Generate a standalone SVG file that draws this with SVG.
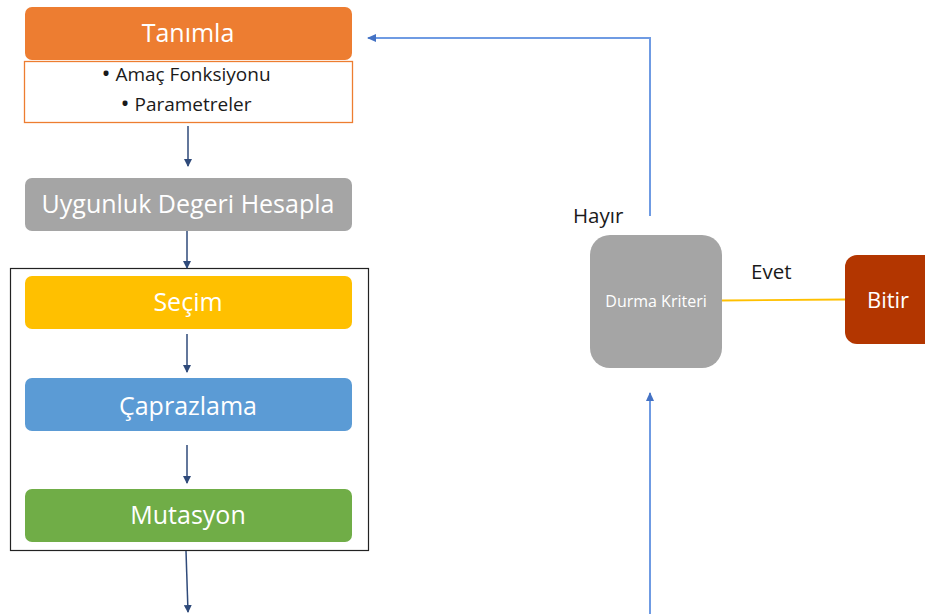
<svg xmlns="http://www.w3.org/2000/svg" width="925" height="614" viewBox="0 0 925 614">
  <defs>
    <marker id="navyHead" markerWidth="8" markerHeight="8" refX="7" refY="4" orient="auto" markerUnits="userSpaceOnUse">
      <path d="M0,0 L8,4 L0,8 Z" fill="#2F4A7A"/>
    </marker>
    <marker id="blueHead" markerWidth="9" markerHeight="8" refX="8" refY="4" orient="auto" markerUnits="userSpaceOnUse">
      <path d="M0,0 L9,4 L0,8 Z" fill="#4472C4"/>
    </marker>
    <style>
      .lbl { font-family: "Open Sans", "Noto Sans", "Liberation Sans", sans-serif; fill: #ffffff; text-anchor: middle; dominant-baseline: central; }
      .dark { font-family: "Open Sans", "Noto Sans", "Liberation Sans", sans-serif; fill: #1a1a1a; }
      .bullet { font-size: 24px; }
      .flow { stroke: #2F4A7A; stroke-width: 1.5; fill: none; marker-end: url(#navyHead); }
      .loop { stroke: #6F9BE3; stroke-width: 2; fill: none; marker-end: url(#blueHead); }
    </style>
  </defs>

  <rect width="925" height="614" fill="#ffffff"/>

  <!-- loop frame around the genetic operators -->
  <rect id="operators-frame" x="10.5" y="268.5" width="358" height="282" fill="none" stroke="#222222" stroke-width="1.2"/>

  <g id="connectors">
    <line class="flow" x1="188" y1="126" x2="188" y2="166"/>
    <line class="flow" x1="187" y1="231" x2="187" y2="268"/>
    <line class="flow" x1="187" y1="334" x2="187" y2="372"/>
    <line class="flow" x1="187" y1="445" x2="187" y2="483"/>
    <line class="flow" x1="186" y1="551" x2="188" y2="612"/>
    <polyline class="loop" points="650,216 650,38 368,38"/>
    <line class="loop" x1="650" y1="614" x2="650" y2="393"/>
    <line x1="722" y1="300.5" x2="845" y2="299.5" stroke="#FFC000" stroke-width="1.8"/>
  </g>

  <g id="tanimla">
    <rect x="25" y="7" width="327" height="53" rx="7" fill="#ED7D31"/>
    <text class="lbl" x="188" y="32" font-size="25">Tanımla</text>
  </g>

  <g id="tanimla-details">
    <rect x="24.5" y="61.5" width="328" height="61" fill="#ffffff" stroke="#ED7D31" stroke-width="1.3"/>
    <text class="dark" x="186" y="81" font-size="19" text-anchor="middle"><tspan class="bullet" dy="1">•</tspan><tspan dy="-1"> Amaç Fonksiyonu</tspan></text>
    <text class="dark" x="186" y="111" font-size="19" text-anchor="middle"><tspan class="bullet" dy="1">•</tspan><tspan dy="-1"> Parametreler</tspan></text>
  </g>

  <g id="uygunluk">
    <rect x="25" y="178" width="327" height="53" rx="7" fill="#A5A5A5"/>
    <text class="lbl" x="188" y="203" font-size="25">Uygunluk Degeri Hesapla</text>
  </g>

  <g id="secim">
    <rect x="25" y="276" width="327" height="53" rx="7" fill="#FFC000"/>
    <text class="lbl" x="188" y="301" font-size="25">Seçim</text>
  </g>

  <g id="caprazlama">
    <rect x="25" y="378" width="327" height="53" rx="7" fill="#5B9BD5"/>
    <text class="lbl" x="188" y="405" font-size="25">Çaprazlama</text>
  </g>

  <g id="mutasyon">
    <rect x="25" y="489" width="327" height="53" rx="7" fill="#70AD47"/>
    <text class="lbl" x="188" y="514" font-size="25">Mutasyon</text>
  </g>

  <g id="durma-kriteri">
    <rect x="590" y="235" width="132" height="133" rx="20" fill="#A5A5A5"/>
    <text class="lbl" x="656" y="301" font-size="16">Durma Kriteri</text>
  </g>

  <g id="bitir">
    <rect x="845" y="255" width="95" height="89" rx="12" fill="#B33600"/>
    <text class="lbl" x="888" y="299" font-size="22">Bitir</text>
  </g>

  <text class="dark" x="573" y="223" font-size="20.5">Hayır</text>
  <text class="dark" x="751" y="279" font-size="20.5">Evet</text>
</svg>
